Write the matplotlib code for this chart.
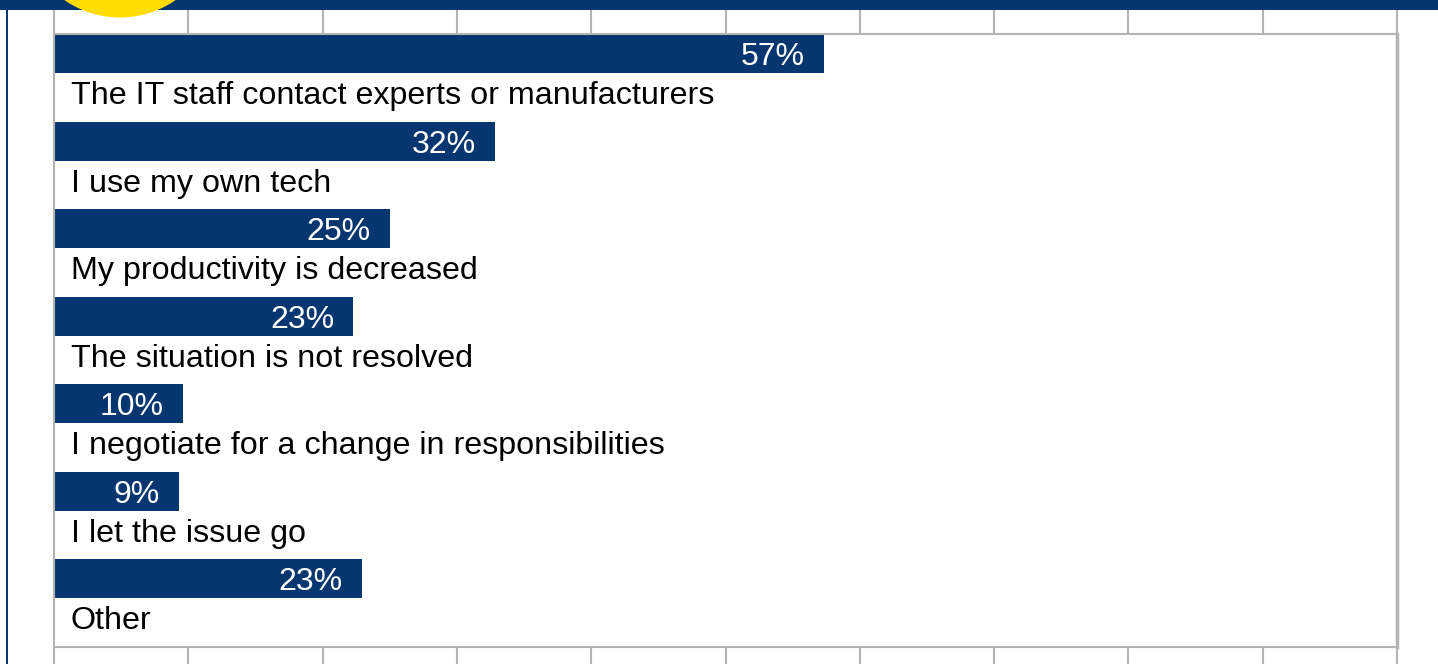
import matplotlib.pyplot as plt
from matplotlib.patches import Rectangle, Circle
from matplotlib.transforms import IdentityTransform

# Dữ liệu
categories = [
    "The IT staff contact experts or manufacturers",
    "I use my own tech",
    "My productivity is decreased",
    "The situation is not resolved",
    "I negotiate for a change in responsibilities",
    "I let the issue go",
    "Other",
]
values = [57.3, 32.8, 25.0, 22.3, 9.6, 9.3, 22.9]
value_labels = ["57%", "32%", "25%", "23%", "10%", "9%", "23%"]

NAVY = "#06366f"
GRID = "#b4b4b4"
YELLOW = "#ffdd00"

plt.rcParams['font.family'] = ['Liberation Sans', 'DejaVu Sans']

W, H = 1438, 664
fig = plt.figure(figsize=(W / 100, H / 100), dpi=100)

# vùng vẽ: x 54..1397, y 34..647 (pixel)
x0, x1, y0, y1 = 54, 1397, 34, 647
ax = fig.add_axes([x0 / W, (H - y1) / H, (x1 - x0) / W, (y1 - y0) / H])

bar_h = 0.446
for i, (cat, v, lab) in enumerate(zip(categories, values, value_labels)):
    ax.barh(i, v, height=bar_h, align='edge', color=NAVY, zorder=2)
    ax.annotate(lab, xy=(v, i + 0.354), xytext=(-19, 0), textcoords='offset pixels',
                ha='right', va='baseline', color='white', fontsize=23, zorder=3)
    ax.annotate(cat, xy=(0, i + 0.80), xytext=(17, 0), textcoords='offset pixels',
                ha='left', va='baseline', color='black', fontsize=23.2)

ax.set_xlim(0, 100)
ax.set_ylim(len(categories), 0)
ax.set_yticks([])
ax.set_xticks(range(0, 101, 10))
ax.tick_params(axis='x', which='both', top=True, bottom=True, direction='out',
               length=20, width=1.5, color=GRID, labelbottom=False, labeltop=False)
for s in ax.spines.values():
    s.set_color(GRID)
    s.set_linewidth(1.5)
ax.spines['right'].set_linewidth(2.5)

# dải xanh phía trên, đường viền trái, vòng tròn vàng
fig.patches.append(Rectangle((0, 654), W, 12, transform=IdentityTransform(),
                             facecolor=NAVY, edgecolor='none', zorder=5))
fig.patches.append(Rectangle((6, 0), 2, H, transform=IdentityTransform(),
                             facecolor=NAVY, edgecolor='none', zorder=5))
fig.patches.append(Circle((120, H + 80), 97.5, transform=IdentityTransform(),
                          facecolor=YELLOW, edgecolor='none', zorder=6))

fig.savefig('out.png', dpi=100)
